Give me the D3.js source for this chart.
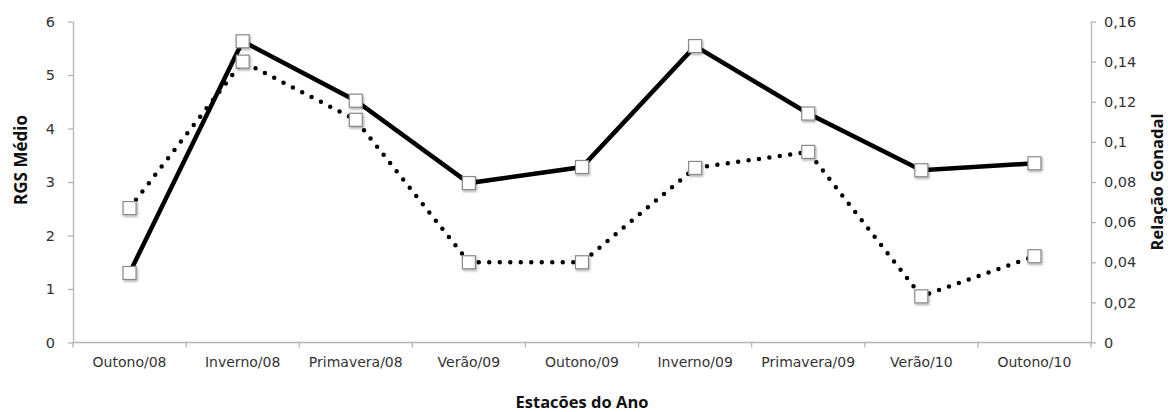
<!DOCTYPE html>
<html>
<head>
<meta charset="utf-8">
<script src="https://cdn.jsdelivr.net/npm/d3@7/dist/d3.min.js"></script>
<style>
  html, body { margin: 0; padding: 0; background: #fff; }
  svg { display: block; }
</style>
</head>
<body>
<div id="chart"></div>
<script>
// Season categories along the x axis
const seasons = ["Outono/08", "Inverno/08", "Primavera/08", "Verão/09", "Outono/09",
                 "Inverno/09", "Primavera/09", "Verão/10", "Outono/10"]

// RGS Médio (left axis, solid line)
const rgsMedio = [1.3, 5.63, 4.52, 2.98, 3.28, 5.54, 4.28, 3.22, 3.35]

// Relação Gonadal (right axis, dotted line)
const relacaoGonadal = [0.067, 0.140, 0.111, 0.040, 0.040, 0.087, 0.095, 0.023, 0.043]

const leftTicks = [0, 1, 2, 3, 4, 5, 6]
const rightTicks = [0, 0.02, 0.04, 0.06, 0.08, 0.1, 0.12, 0.14, 0.16]

const W = 1168, H = 412
const margin = { top: 21.5, right: 77, bottom: 69.5, left: 73 }
const innerW = W - margin.left - margin.right
const innerH = H - margin.top - margin.bottom

const AXIS = "#b5b5b5"
const TEXT = "#333"
const FONT = "'DejaVu Sans', Verdana, sans-serif"
const TITLE_FONT = "'Open Sans', 'Liberation Sans', sans-serif"

const svg = d3.select("#chart").append("svg")
  .attr("width", W)
  .attr("height", H)

const defs = svg.append("defs")
const shadow = defs.append("filter").attr("id", "mk-shadow")
  .attr("x", "-50%").attr("y", "-50%").attr("width", "200%").attr("height", "200%")
shadow.append("feDropShadow")
  .attr("dx", 1).attr("dy", 1.5).attr("stdDeviation", 1)
  .attr("flood-color", "#000").attr("flood-opacity", 0.35)

const g = svg.append("g").attr("transform", `translate(${margin.left},${margin.top})`)

const x = d3.scaleBand().domain(seasons).range([0, innerW])
const yL = d3.scaleLinear().domain([0, 6]).range([innerH, 0])
const yR = d3.scaleLinear().domain([0, 0.16]).range([innerH, 0])

const cx = d => x(d) + x.bandwidth() / 2

// x axis line + ticks at band boundaries
const xAxis = g.append("g").attr("transform", `translate(0,${innerH})`)
xAxis.append("line")
  .attr("x1", 0).attr("x2", innerW)
  .attr("stroke", AXIS).attr("stroke-width", 1.3)
xAxis.selectAll("line.tick")
  .data(d3.range(seasons.length + 1))
  .join("line")
  .attr("class", "tick")
  .attr("x1", i => i * x.bandwidth()).attr("x2", i => i * x.bandwidth())
  .attr("y1", 0).attr("y2", 5)
  .attr("stroke", AXIS).attr("stroke-width", 1.3)
xAxis.selectAll("text")
  .data(seasons)
  .join("text")
  .attr("x", d => cx(d))
  .attr("y", 24.5)
  .attr("text-anchor", "middle")
  .attr("font-family", FONT)
  .attr("font-size", "14px")
  .attr("fill", TEXT)
  .text(d => d)

// left axis
const leftAxis = g.append("g")
  .call(d3.axisLeft(yL).tickValues(leftTicks).tickSize(5).tickSizeOuter(0).tickPadding(13)
    .tickFormat(d3.format("d")))
leftAxis.select(".domain").attr("stroke", AXIS).attr("stroke-width", 1.3)
leftAxis.selectAll(".tick line").attr("stroke", AXIS).attr("stroke-width", 1.3)
leftAxis.selectAll(".tick text")
  .attr("font-family", FONT).attr("font-size", "14.5px").attr("fill", TEXT)

// right axis
const rightAxis = g.append("g").attr("transform", `translate(${innerW},0)`)
  .call(d3.axisRight(yR).tickValues(rightTicks).tickSize(5).tickSizeOuter(0).tickPadding(8)
    .tickFormat(d => d === 0 ? "0" : String(+d.toFixed(2)).replace(".", ",")))
rightAxis.select(".domain").attr("stroke", AXIS).attr("stroke-width", 1.3)
rightAxis.selectAll(".tick line").attr("stroke", AXIS).attr("stroke-width", 1.3)
rightAxis.selectAll(".tick text")
  .attr("font-family", FONT).attr("font-size", "14.5px").attr("fill", TEXT)

// axis titles
svg.append("text")
  .attr("transform", `translate(27,160) rotate(-90)`)
  .attr("text-anchor", "middle")
  .attr("font-family", TITLE_FONT).attr("font-weight", "bold")
  .attr("font-size", "17px").attr("fill", "#111")
  .text("RGS Médio")

svg.append("text")
  .attr("transform", `translate(1163,182) rotate(-90)`)
  .attr("text-anchor", "middle")
  .attr("font-family", TITLE_FONT).attr("font-weight", "bold")
  .attr("font-size", "16.5px").attr("fill", "#111")
  .text("Relação Gonadal")

svg.append("text")
  .attr("x", margin.left + innerW / 2).attr("y", 408)
  .attr("text-anchor", "middle")
  .attr("font-family", TITLE_FONT).attr("font-weight", "bold")
  .attr("font-size", "16.5px").attr("fill", "#111")
  .text("Estacões do Ano")

// lines
const lineL = d3.line().x((d, i) => cx(seasons[i])).y(d => yL(d))
const lineR = d3.line().x((d, i) => cx(seasons[i])).y(d => yR(d))

g.append("path")
  .datum(relacaoGonadal)
  .attr("d", lineR)
  .attr("fill", "none")
  .attr("stroke", "#000")
  .attr("stroke-width", 4.5)
  .attr("stroke-linecap", "round")
  .attr("stroke-dasharray", "0,10.5")

g.append("path")
  .datum(rgsMedio)
  .attr("d", lineL)
  .attr("fill", "none")
  .attr("stroke", "#000")
  .attr("stroke-width", 4.5)
  .attr("stroke-linejoin", "miter")

// markers
const MK = 13
function drawMarkers(data, scale) {
  g.append("g")
    .selectAll("rect")
    .data(data)
    .join("rect")
    .attr("x", (d, i) => cx(seasons[i]) - MK / 2)
    .attr("y", d => scale(d) - MK / 2)
    .attr("width", MK).attr("height", MK)
    .attr("fill", "#fff")
    .attr("stroke", "#8a8a8a")
    .attr("stroke-width", 1.2)
    .attr("filter", "url(#mk-shadow)")
}
drawMarkers(relacaoGonadal, yR)
drawMarkers(rgsMedio, yL)
</script>
</body>
</html>
